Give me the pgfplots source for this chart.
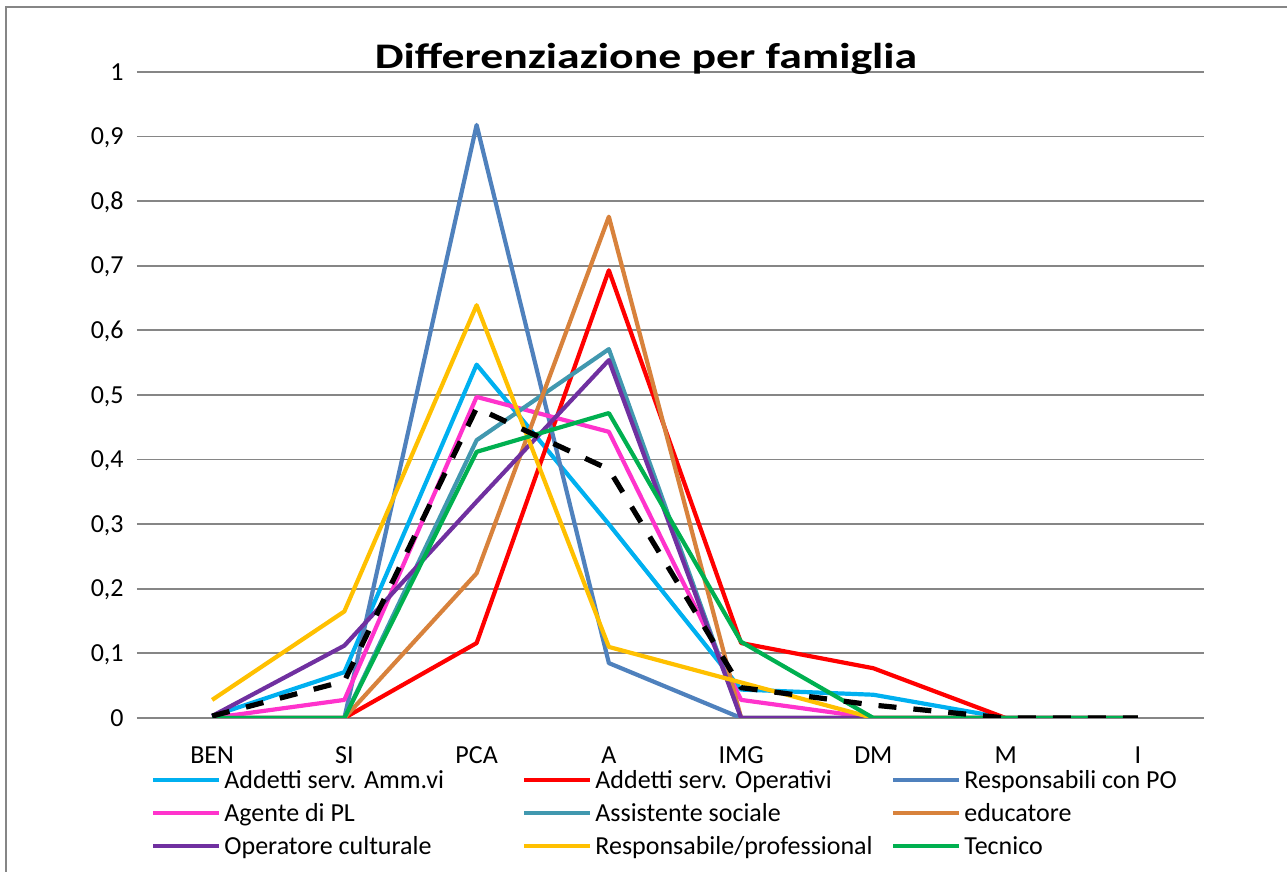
\documentclass[border=0pt]{standalone}
\usepackage{pgfplots}
\pgfplotsset{compat=1.18}
\usepackage{fontspec}
\setmainfont{Carlito}
\newfontfamily\titlefont{Carlito}[FakeStretch=1.27]
\definecolor{cAmm}{HTML}{00B0F0}
\definecolor{cOper}{HTML}{FF0000}
\definecolor{cRPO}{HTML}{4F81BD}
\definecolor{cPL}{HTML}{FF33CC}
\definecolor{cAss}{HTML}{4198AF}
\definecolor{cEdu}{HTML}{D8823C}
\definecolor{cCult}{HTML}{7030A0}
\definecolor{cProf}{HTML}{FFC000}
\definecolor{cTec}{HTML}{00B050}
\definecolor{gridgray}{HTML}{868686}
\begin{document}
\begin{tikzpicture}
\path[use as bounding box] (0,0) rectangle (643.5pt,436pt);
\draw[color=gridgray, line width=1.2pt] (3pt,0) -- (3pt,432.5pt) -- (643.5pt,432.5pt);
\begin{axis}[
  at={(73pt,77pt)}, anchor=south west,
  scale only axis, width=529pt, height=323pt,
  xmin=-0.5, xmax=7.5, ymin=0, ymax=1,
  axis line style={draw=none},
  xtick={0,1,2,3,4,5,6,7},
  xticklabels={BEN,SI,PCA,A,IMG,DM,M,I},
  minor xtick={0.5,1.5,2.5,3.5,4.5,5.5,6.5,7.5},
  ytick={0,0.1,0.2,0.3,0.4,0.5,0.6,0.7,0.8,0.9,1},
  xtick pos=bottom, ytick pos=left,
  tick align=outside,
  major tick length=4.5pt, minor tick length=4.5pt,
  xtick style={draw=none},
  minor x tick style={color=gridgray, line width=0.9pt},
  ytick style={color=gridgray, line width=0.9pt},
  ymajorgrids,
  grid style={color=gridgray, line width=0.9pt},
  every tick label/.append style={font=\fontsize{13}{15}\selectfont},
  xticklabel style={anchor=north, inner sep=0pt, text height=8.5pt, text depth=0pt, yshift=-9.5pt},
  yticklabel style={anchor=east, inner sep=0pt, text height=8.2pt, text depth=0pt, xshift=-6.5pt},
  /pgf/number format/use comma,
  /pgf/number format/fixed,
  /pgf/number format/precision=1,
  /pgf/number format/assume math mode=true,
  title={\titlefont\bfseries\fontsize{18}{20}\selectfont Differenziazione per famiglia},
  title style={at={(0.5,1)}, anchor=base, yshift=-4.5pt, xshift=-14.5pt, inner sep=0pt},
  legend columns=3,
  legend cell align=left,
  legend style={at={(0,0)}, anchor=north west, xshift=2.5pt, yshift=-25.5pt,
    draw=none, fill=none, inner sep=0pt, column sep=0pt, row sep=5.5pt,
    /tikz/every odd column/.append style={column sep=1.5pt},
    nodes={inner sep=0pt, text height=9.5pt, text depth=1.5pt, font=\fontsize{13}{15}\selectfont}},
  legend image code/.code={\draw[#1, line width=2pt] (0pt,0pt) -- (33pt,0pt);},
  every axis plot/.append style={line width=2.1pt, line join=round, no markers},
]
\addplot[cAmm] coordinates {(0,0.003) (1,0.071) (2,0.547) (3,0.300) (4,0.044) (5,0.036) (6,0) (7,0)};
\addlegendentry{\makebox[149pt][l]{Addetti serv. Amm.vi}}
\addplot[cOper] coordinates {(0,0) (1,0) (2,0.116) (3,0.693) (4,0.116) (5,0.077) (6,0)};
\addlegendentry{\makebox[148pt][l]{Addetti serv. Operativi}}
\addplot[cRPO] coordinates {(0,0) (1,0) (2,0.918) (3,0.085) (4,0) (5,0) (6,0) (7,0)};
\addlegendentry{\makebox[120pt][l]{Responsabili con PO}}
\addplot[cPL] coordinates {(0,0) (1,0.028) (2,0.497) (3,0.443) (4,0.028) (5,0) (6,0) (7,0)};
\addlegendentry{\makebox[149pt][l]{Agente di PL}}
\addplot[cAss] coordinates {(0,0) (1,0) (2,0.430) (3,0.571) (4,0) (5,0) (6,0) (7,0)};
\addlegendentry{\makebox[148pt][l]{Assistente sociale}}
\addplot[cEdu] coordinates {(0,0) (1,0) (2,0.224) (3,0.776) (4,0) (5,0) (6,0) (7,0)};
\addlegendentry{\makebox[120pt][l]{educatore}}
\addplot[cCult] coordinates {(0,0.003) (1,0.112) (2,0.335) (3,0.554) (4,0) (5,0) (6,0) (7,0)};
\addlegendentry{\makebox[149pt][l]{Operatore culturale}}
\addplot[cProf] coordinates {(0,0.028) (1,0.165) (2,0.639) (3,0.110) (4,0.055) (5,0) (6,0) (7,0)};
\addlegendentry{\makebox[148pt][l]{Responsabile/professional}}
\addplot[cTec] coordinates {(0,0) (1,0) (2,0.412) (3,0.472) (4,0.118) (5,0) (6,0) (7,0)};
\addlegendentry{\makebox[120pt][l]{Tecnico}}
\addplot[black, line width=2.6pt, dash pattern=on 9pt off 8.5pt, forget plot] coordinates {(0,0.003) (1,0.057) (2,0.480) (3,0.385) (4,0.047) (5,0.020) (6,0) (7,0)};
\end{axis}
\end{tikzpicture}
\end{document}
